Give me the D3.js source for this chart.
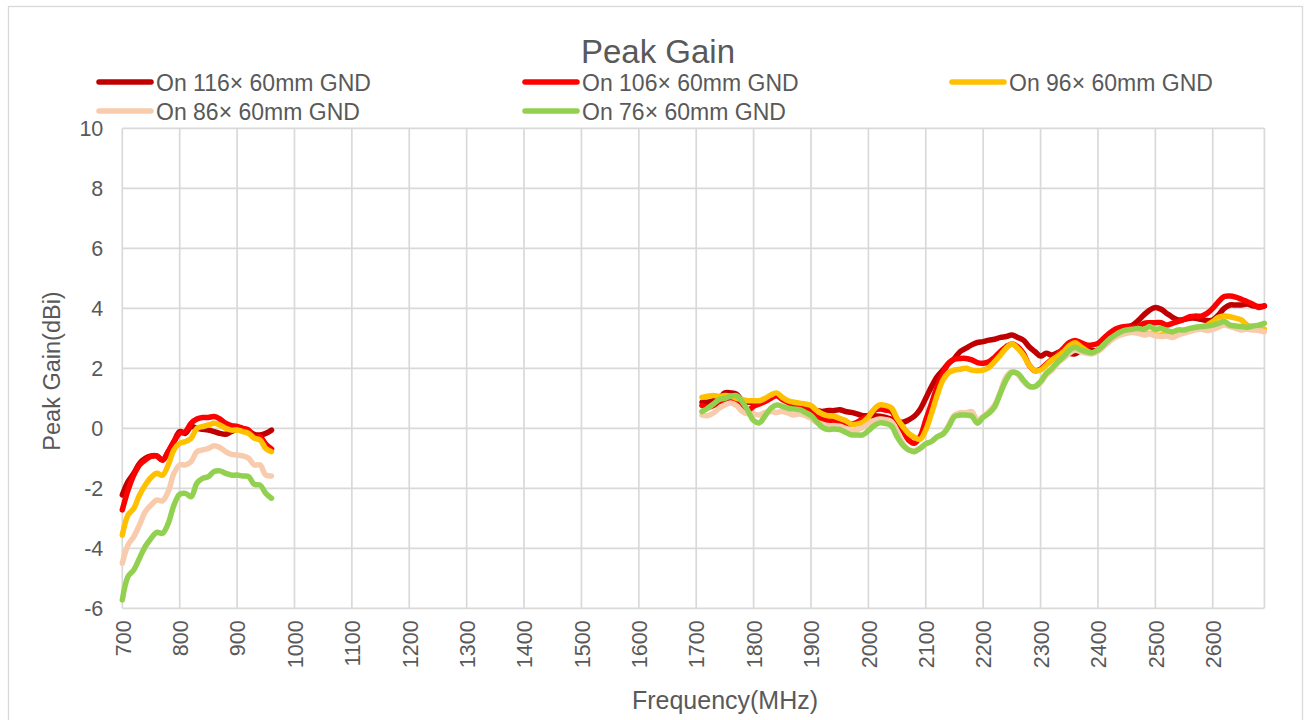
<!DOCTYPE html>
<html><head><meta charset="utf-8">
<script src="https://cdn.jsdelivr.net/npm/d3@7"></script>
<style>body{margin:0;background:#fff}</style>
</head><body><svg id="c" width="1310" height="720"></svg>
<script>
// ---- data ----
const freqLeft = d3.range(700, 961, 10);     // 700..960 MHz
const freqRight = d3.range(1710, 2691, 10);  // 1710..2690 MHz
const xTickValues = d3.range(700, 2601, 100);
const yTickValues = [-6, -4, -2, 0, 2, 4, 6, 8, 10];

const seriesNames = ["On 116\u00d7 60mm GND", "On 106\u00d7 60mm GND", "On 96\u00d7 60mm GND", "On 86\u00d7 60mm GND", "On 76\u00d7 60mm GND"];
const seriesColors = ["#C00000", "#FF0000", "#FFC000", "#F8CBAD", "#92D050"];

const gain116Left = [-2.22,-1.78,-1.5,-1.17,-1.0,-0.92,-0.92,-1.06,-0.78,-0.44,-0.11,-0.17,0.06,0.0,-0.03,-0.06,-0.11,-0.17,-0.2,-0.11,-0.02,-0.02,-0.09,-0.2,-0.22,-0.17,-0.06];
const gain106Left = [-2.72,-2.06,-1.56,-1.22,-1.06,-0.94,-0.92,-1.06,-0.78,-0.44,-0.17,-0.11,0.17,0.31,0.36,0.36,0.39,0.31,0.17,0.09,0.06,0.0,-0.06,-0.31,-0.28,-0.53,-0.69];
const gain96Left  = [-3.56,-2.89,-2.67,-2.22,-1.89,-1.64,-1.5,-1.56,-1.22,-0.72,-0.5,-0.44,-0.33,0.0,0.06,0.11,0.17,0.11,0.0,-0.06,-0.06,-0.11,-0.17,-0.33,-0.39,-0.67,-0.78];
const gain86Left  = [-4.5,-3.89,-3.61,-3.22,-2.78,-2.56,-2.39,-2.42,-2.11,-1.5,-1.22,-1.22,-1.11,-0.78,-0.72,-0.67,-0.58,-0.64,-0.78,-0.87,-0.89,-0.92,-1.0,-1.22,-1.22,-1.56,-1.59];
const gain76Left  = [-5.72,-4.94,-4.72,-4.33,-3.94,-3.67,-3.47,-3.5,-3.17,-2.56,-2.2,-2.17,-2.28,-1.83,-1.67,-1.61,-1.44,-1.42,-1.5,-1.56,-1.56,-1.59,-1.61,-1.87,-1.89,-2.17,-2.33];

const gain116Right = [
 0.87,0.87,0.92,1.0,1.18,1.18,1.14,0.92,0.87,0.87,
 0.87,0.92,1.03,1.09,1.0,0.87,0.81,0.76,0.7,0.64,
 0.59,0.56,0.59,0.59,0.62,0.56,0.53,0.48,0.42,0.42,
 0.42,0.4,0.36,0.3,0.24,0.2,0.28,0.4,0.63,1.0,
 1.39,1.72,1.94,2.17,2.33,2.56,2.67,2.78,2.86,2.89,
 2.94,2.97,3.03,3.06,3.11,3.03,2.94,2.72,2.56,2.41,
 2.5,2.44,2.52,2.58,2.5,2.48,2.61,2.67,2.59,2.61,
 2.78,3.06,3.22,3.33,3.39,3.44,3.59,3.78,3.94,4.03,
 3.97,3.83,3.7,3.61,3.63,3.67,3.67,3.63,3.59,3.61,
 3.78,4.0,4.11,4.11,4.11,4.14,4.08,4.06,4.08];
const gain106Right = [
 0.76,0.7,0.76,0.89,0.96,0.98,0.87,0.64,0.59,0.73,
 0.81,0.89,1.0,1.09,0.96,0.87,0.76,0.7,0.64,0.53,
 0.37,0.29,0.26,0.26,0.22,0.18,0.14,0.2,0.31,0.42,
 0.59,0.64,0.61,0.56,0.28,-0.06,-0.39,-0.5,-0.28,0.28,
 0.83,1.39,1.83,2.17,2.3,2.33,2.33,2.28,2.19,2.17,
 2.22,2.37,2.56,2.72,2.81,2.72,2.5,2.11,1.92,1.97,
 2.14,2.3,2.48,2.67,2.86,2.93,2.86,2.78,2.78,2.83,
 3.0,3.17,3.3,3.37,3.39,3.36,3.39,3.5,3.52,3.52,
 3.52,3.44,3.5,3.56,3.63,3.72,3.74,3.74,3.83,4.0,
 4.22,4.39,4.41,4.37,4.3,4.22,4.14,4.03,4.08];
const gain96Right = [
 1.03,1.07,1.09,1.07,1.09,1.07,1.0,0.96,0.92,0.92,
 0.92,1.0,1.11,1.18,1.03,0.92,0.87,0.84,0.81,0.76,
 0.59,0.48,0.42,0.4,0.33,0.26,0.14,0.14,0.2,0.37,
 0.64,0.78,0.76,0.68,0.33,0.06,-0.17,-0.3,-0.37,-0.06,
 0.5,1.11,1.61,1.86,1.94,1.97,2.0,1.94,1.92,1.94,
 2.03,2.22,2.44,2.67,2.81,2.67,2.44,2.11,1.92,1.94,
 2.11,2.28,2.41,2.56,2.75,2.85,2.72,2.59,2.5,2.59,
 2.78,2.94,3.06,3.17,3.22,3.26,3.19,3.14,3.17,3.11,
 3.11,3.17,3.19,3.22,3.26,3.3,3.33,3.37,3.44,3.56,
 3.7,3.74,3.72,3.67,3.61,3.44,3.37,3.33,3.3];
const gain86Right = [
 0.44,0.42,0.51,0.67,0.78,0.84,0.76,0.56,0.48,0.48,
 0.44,0.53,0.56,0.53,0.56,0.51,0.44,0.48,0.42,0.33,
 0.2,0.14,0.09,0.09,0.07,0.0,-0.08,-0.04,0.03,0.14,
 0.26,0.31,0.29,0.22,-0.11,-0.5,-0.72,-0.74,-0.67,-0.52,
 -0.44,-0.28,-0.17,0.11,0.44,0.52,0.52,0.56,0.28,0.39,
 0.56,0.78,1.22,1.72,1.89,1.81,1.56,1.39,1.39,1.52,
 1.78,1.94,2.17,2.33,2.5,2.6,2.56,2.5,2.48,2.56,
 2.72,2.89,3.03,3.11,3.17,3.19,3.17,3.11,3.14,3.08,
 3.06,3.08,3.03,3.11,3.17,3.22,3.28,3.3,3.26,3.3,
 3.37,3.44,3.39,3.33,3.28,3.3,3.28,3.26,3.22];
const gain76Right = [
 0.56,0.67,0.81,0.96,1.0,1.07,1.09,0.89,0.59,0.26,
 0.18,0.42,0.67,0.78,0.73,0.67,0.64,0.62,0.53,0.42,
 0.22,0.03,-0.04,-0.02,-0.04,-0.13,-0.22,-0.22,-0.22,-0.08,
 0.09,0.18,0.16,0.08,-0.28,-0.56,-0.72,-0.78,-0.67,-0.52,
 -0.44,-0.28,-0.19,0.06,0.39,0.44,0.44,0.41,0.17,0.37,
 0.5,0.72,1.17,1.61,1.86,1.83,1.61,1.41,1.39,1.56,
 1.83,2.0,2.22,2.39,2.6,2.7,2.61,2.56,2.52,2.61,
 2.78,2.97,3.11,3.22,3.28,3.3,3.33,3.3,3.39,3.3,
 3.33,3.26,3.22,3.28,3.28,3.33,3.37,3.39,3.41,3.44,
 3.5,3.56,3.44,3.41,3.39,3.37,3.41,3.44,3.5];

const leftSets = [gain116Left, gain106Left, gain96Left, gain86Left, gain76Left];
const rightSets = [gain116Right, gain106Right, gain96Right, gain86Right, gain76Right];

// ---- drawing ----
const FONT = "'Liberation Sans', Arial, sans-serif";
const TXT = "#595959";
const GRID = "#d9d9d9";
const svg = d3.select("#c").style("font-family", FONT);

svg.append("rect").attr("x", 8.5).attr("y", 6.5).attr("width", 1294).attr("height", 720)
  .attr("fill", "#fff").attr("stroke", GRID).attr("stroke-width", 1.3);

const x = d3.scaleLinear().domain([700, 2690]).range([122.3, 1264.4]);
const y = d3.scaleLinear().domain([-6, 10]).range([608.3, 128.3]);

const grid = svg.append("g");
grid.selectAll("line.h").data(yTickValues).join("line")
  .attr("x1", x(700)).attr("x2", x(2690)).attr("y1", d => y(d)).attr("y2", d => y(d))
  .attr("stroke", GRID).attr("stroke-width", 1.7);
grid.selectAll("line.v").data(xTickValues.concat([2690])).join("line")
  .attr("y1", y(-6)).attr("y2", y(10)).attr("x1", d => x(d)).attr("x2", d => x(d))
  .attr("stroke", GRID).attr("stroke-width", 1.7);

// y axis labels
const yAxis = svg.append("g").attr("transform", `translate(${x(700)},0)`)
  .call(d3.axisLeft(y).tickValues(yTickValues).tickSize(0).tickPadding(19).tickFormat(d => String(d)));
yAxis.select(".domain").remove();
yAxis.selectAll("text").attr("fill", TXT).style("font-size", "21.5px").style("font-family", FONT);

// x axis labels
const xAxis = svg.append("g").attr("transform", `translate(0,${y(-6)})`)
  .call(d3.axisBottom(x).tickValues(xTickValues).tickSize(0).tickFormat(d => String(d)));
xAxis.select(".domain").remove();
xAxis.selectAll("text").attr("fill", TXT).style("font-size", "21.5px").style("font-family", FONT)
  .attr("transform", "rotate(-90)").attr("text-anchor", "end")
  .attr("x", -12).attr("y", 0).attr("dy", "0.36em");

// lines
const line = d3.line().x(d => x(d[0])).y(d => y(d[1])).curve(d3.curveCatmullRom.alpha(0.5));
const plot = svg.append("g");
seriesNames.forEach((name, i) => {
  [[freqLeft, leftSets[i]], [freqRight, rightSets[i]]].forEach(([fs, vs]) => {
    plot.append("path").datum(fs.map((f, k) => [f, vs[k]]))
      .attr("d", line).attr("fill", "none").attr("stroke", seriesColors[i])
      .attr("stroke-width", 5.5).attr("stroke-linejoin", "round").attr("stroke-linecap", "round");
  });
});

// title
svg.append("text").attr("x", 658).attr("y", 63).attr("text-anchor", "middle")
  .attr("fill", TXT).style("font-size", "33px").text("Peak Gain");

// legend
const legendPos = [[97, 82], [523, 82], [950, 82], [97, 111], [523, 111]];
seriesNames.forEach((name, i) => {
  const [lx, ly] = legendPos[i];
  svg.append("line").attr("x1", lx + 2).attr("x2", lx + 54).attr("y1", ly).attr("y2", ly)
    .attr("stroke", seriesColors[i]).attr("stroke-width", 5.5).attr("stroke-linecap", "round");
  svg.append("text").attr("x", lx + 59).attr("y", ly + 9).attr("fill", TXT)
    .style("font-size", "23px").text(name);
});

// axis titles
svg.append("text").attr("x", 725).attr("y", 709).attr("text-anchor", "middle")
  .attr("fill", TXT).style("font-size", "25px").text("Frequency(MHz)");
svg.append("text").attr("transform", "translate(60,371) rotate(-90)").attr("text-anchor", "middle")
  .attr("fill", TXT).style("font-size", "23.5px").text("Peak Gain(dBi)");
</script>
</body></html>
